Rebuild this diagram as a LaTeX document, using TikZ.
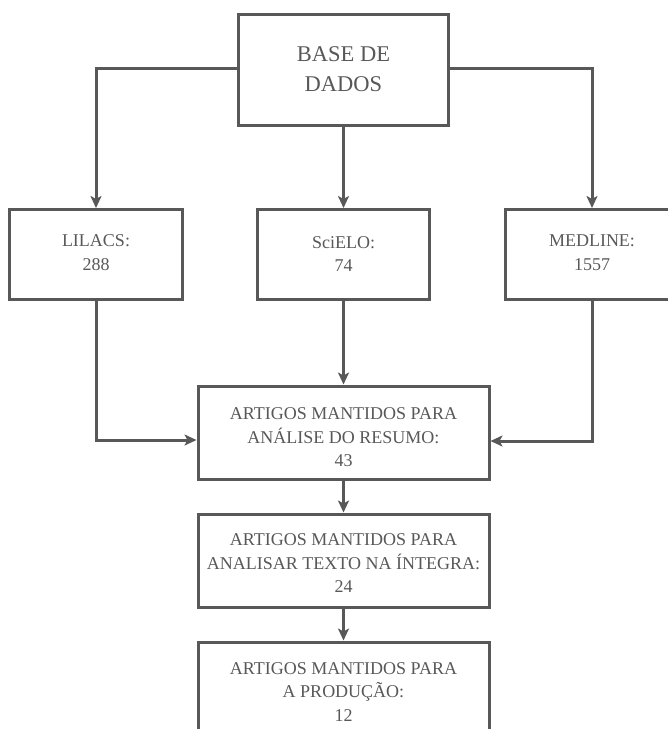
\documentclass[tikz,border=0pt]{standalone}
\usepackage{fontspec}
\setmainfont{Liberation Serif}
\usetikzlibrary{arrows.meta}
\definecolor{ink}{HTML}{585858}
\begin{document}
\begin{tikzpicture}[x=1pt,y=-1pt,
  box/.style={draw=ink, line width=3pt, text=ink, rectangle, inner sep=0pt, align=center, font=\fontsize{18}{23}\selectfont},
  txt/.style={text=ink, inner sep=0pt, align=center, font=\fontsize{18}{23.5}\selectfont},
  conn/.style={draw=ink, line width=3pt, -{Stealth[length=12pt,width=11pt,inset=3pt]}}]
\useasboundingbox (0,0) rectangle (668,729);
\clip (0,0) rectangle (668,729);
\node[box, minimum width=210pt, minimum height=111pt, font=\fontsize{22.5}{30}\selectfont] (base) at (343.5,69.5) {BASE DE\\DADOS};
\node[box, minimum width=173pt, minimum height=90pt, label={[txt,yshift=2pt]center:{LILACS:\\288}}] (lil) at (96,254.5) {};
\node[box, minimum width=172pt, minimum height=90pt] (sci) at (343.5,254.5) {SciELO:\\74};
\node[box, minimum width=173pt, minimum height=90pt, label={[txt,yshift=2pt]center:{MEDLINE:\\1557}}] (med) at (592,254.5) {};
\node[box, minimum width=291pt, minimum height=93pt, label={[txt,yshift=-5pt]center:{ARTIGOS MANTIDOS PARA\\AN\'ALISE DO RESUMO:\\43}}] (a1) at (343.5,432.5) {};
\node[box, minimum width=291pt, minimum height=93pt, label={[txt,yshift=-3pt]center:{ARTIGOS MANTIDOS PARA\\ANALISAR TEXTO NA \'INTEGRA:\\24}}] (a2) at (343.5,560.5) {};
\node[box, minimum width=291pt, minimum height=96pt, label={[txt,yshift=-2pt]center:{ARTIGOS MANTIDOS PARA\\A PRODU\c{C}\~AO:\\12}}] (a3) at (343.5,690) {};
\draw[conn] ([yshift=1pt]base.west) -| (lil.north);
\draw[conn] ([yshift=1pt]base.east) -| (med.north);
\draw[conn] (base.south) -- (sci.north);
\draw[conn] (lil.south) |- ([yshift=-7.5pt]a1.west);
\draw[conn] (med.south) |- ([yshift=-8.5pt]a1.east);
\draw[conn] (sci.south) -- (a1.north);
\draw[conn] (a1.south) -- (a2.north);
\draw[conn] (a2.south) -- (a3.north);
\end{tikzpicture}
\end{document}
